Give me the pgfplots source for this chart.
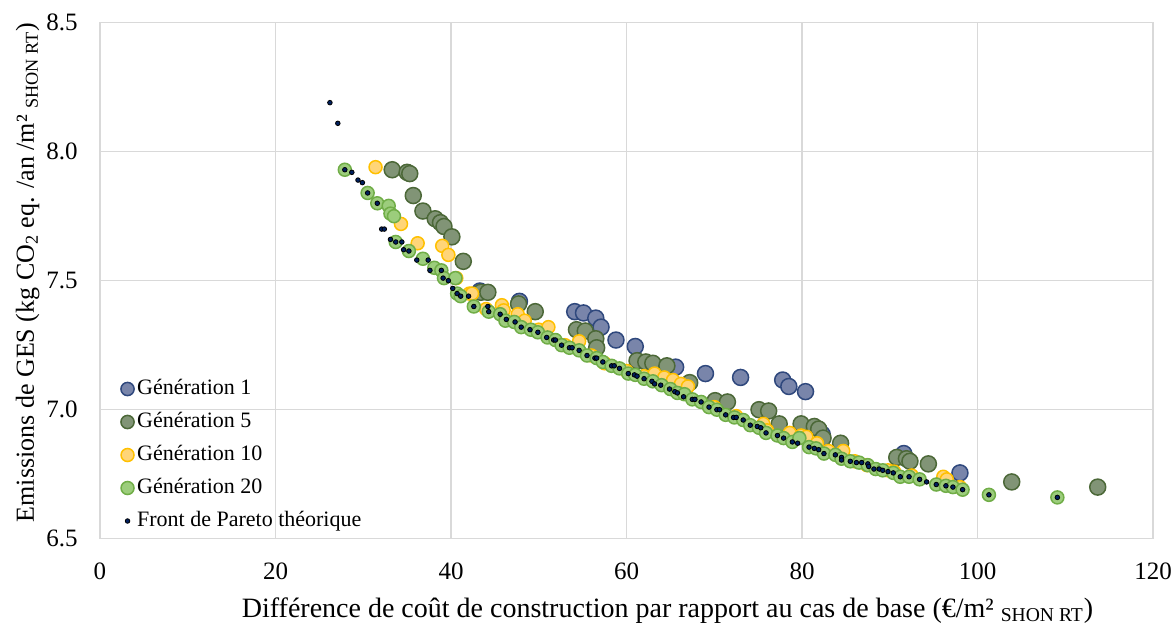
\documentclass[border=0pt]{standalone}
\usepackage{pgfplots}
\pgfplotsset{compat=1.18}
\usepackage{fontspec}
\setmainfont{Liberation Serif}

\definecolor{gridgrey}{RGB}{217,217,217}
\definecolor{gonefill}{RGB}{121,133,170}
\definecolor{goneedge}{RGB}{47,72,125}
\definecolor{gfivefill}{RGB}{129,148,118}
\definecolor{gfiveedge}{RGB}{76,104,56}
\definecolor{gtenfill}{RGB}{255,213,120}
\definecolor{gtenedge}{RGB}{255,192,0}
\definecolor{gtwentyfill}{RGB}{156,205,124}
\definecolor{gtwentyedge}{RGB}{112,173,71}
\definecolor{pareto}{RGB}{0,32,96}

\begin{document}
\begin{tikzpicture}
\begin{axis}[
    scale only axis,
    width=526.5pt, height=258pt,
    xmin=0, xmax=120, ymin=6.5, ymax=8.5,
    xtick={0,20,...,120},
    ytick={6.5,7.0,7.5,8.0,8.5},
    yticklabel style={/pgf/number format/fixed, /pgf/number format/fixed zerofill, /pgf/number format/precision=1},
    /pgf/number format/assume math mode=true,
    grid=major,
    grid style={gridgrey, line width=0.75pt},
    axis line style={gridgrey, line width=0.75pt},
    tick style={draw=none},
    ticklabel style={font=\fontsize{12.5}{14}\selectfont},
    xticklabel style={anchor=north, inner sep=0pt, yshift=-12pt},
    yticklabel style={anchor=east, inner sep=0pt, xshift=-11pt},
    xlabel={Différence de coût de construction par rapport au cas de base (€/m² \textsubscript{SHON RT})},
    ylabel={Emissions de GES (kg CO\textsubscript{2} eq. /an /m² \textsubscript{SHON RT})},
    xlabel style={at={(axis description cs:0.539,-0.152)}, anchor=base, font=\fontsize{14}{16}\selectfont},
    ylabel style={at={(axis description cs:-0.0627,0.516)}, anchor=base, font=\fontsize{13}{15}\selectfont},
    legend cell align=left,
    legend style={at={(0.0195,0.318)}, anchor=north west, draw=none, fill=none,
        inner sep=0pt, row sep=2.5pt,
        font=\fontsize{11}{13}\selectfont,
        nodes={text height=0.75em, text depth=0.25em, inner ysep=2pt, inner xsep=1.5pt}},
    legend image code/.code={\draw[mark repeat=2,mark phase=2,#1] plot coordinates {(0cm,0cm) (0.16cm,0cm) (0.32cm,0cm)};},
]

% Generation 1
\addplot[only marks, mark=*, mark size=4pt,
    mark options={fill=gonefill, draw=goneedge, line width=0.75pt},
    legend image post style={mark size=3.3pt}] table {
x y
43.3 7.46
47.8 7.42
54.1 7.38
55.1 7.375
56.5 7.355
57.1 7.32
58.8 7.27
61.0 7.245
65.6 7.165
69.0 7.14
73.0 7.125
77.8 7.115
78.5 7.09
80.4 7.07
82.3 6.905
91.6 6.83
98.0 6.755
};
\addlegendentry{Génération 1}

% Generation 5
\addplot[only marks, mark=*, mark size=4pt,
    mark options={fill=gfivefill, draw=gfiveedge, line width=0.75pt},
    legend image post style={mark size=3.3pt}] table {
x y
33.3 7.93
35.0 7.92
35.3 7.915
35.7 7.83
36.8 7.77
38.2 7.74
38.8 7.725
39.2 7.71
40.1 7.67
41.4 7.575
43.4 7.455
44.2 7.455
47.7 7.41
49.6 7.38
54.3 7.31
55.3 7.305
56.5 7.275
56.6 7.24
61.2 7.19
62.2 7.185
63.0 7.18
64.6 7.17
67.2 7.105
70.1 7.035
71.5 7.03
75.1 7.00
76.2 6.995
77.4 6.945
79.9 6.945
81.4 6.935
81.9 6.925
82.4 6.89
84.4 6.87
90.8 6.815
91.9 6.81
92.3 6.80
94.4 6.79
103.9 6.72
113.7 6.70
};
\addlegendentry{Génération 5}

% Generation 10
\addplot[only marks, mark=*, mark size=3.25pt,
    mark options={fill=gtenfill, draw=gtenedge, line width=0.75pt}] table {
x y
31.4 7.94
34.3 7.72
36.2 7.645
39.0 7.635
39.7 7.60
40.6 7.51
42.1 7.45
42.4 7.45
44.0 7.39
45.8 7.405
46.0 7.385
47.6 7.37
48.4 7.345
50.0 7.31
51.1 7.32
53.0 7.25
54.6 7.265
56.0 7.21
57.5 7.18
60.0 7.15
62.0 7.13
63.2 7.14
64.3 7.125
65.3 7.115
66.2 7.10
67.0 7.09
70.0 7.01
72.5 6.975
75.6 6.945
76.0 6.92
78.6 6.91
79.9 6.90
80.5 6.895
81.7 6.87
83.0 6.84
84.7 6.84
86.0 6.80
87.4 6.785
89.8 6.765
90.5 6.76
92.5 6.745
96.1 6.74
96.5 6.73
98.0 6.70
};
\addlegendentry{Génération 10}

% Generation 20
\addplot[only marks, mark=*, mark size=3.25pt,
    mark options={fill=gtwentyfill, draw=gtwentyedge, line width=0.75pt}] table {
x y
27.9 7.93
30.5 7.84
31.6 7.80
32.9 7.79
33.1 7.76
33.5 7.75
33.7 7.65
35.2 7.615
36.8 7.585
38.1 7.55
38.9 7.54
39.2 7.51
40.5 7.51
40.7 7.45
41.1 7.44
42.6 7.40
44.3 7.38
45.6 7.37
46.2 7.345
47.2 7.34
48.0 7.32
49.1 7.31
49.9 7.30
51.0 7.28
51.9 7.27
52.6 7.25
53.5 7.24
54.6 7.23
55.5 7.21
56.6 7.20
57.3 7.185
58.3 7.17
59.2 7.16
60.2 7.14
61.0 7.135
62.0 7.12
63.0 7.11
64.0 7.095
65.0 7.08
65.8 7.065
66.6 7.06
67.5 7.04
68.5 7.03
69.4 7.01
70.3 7.00
71.3 6.98
72.3 6.97
73.3 6.96
74.1 6.94
75.1 6.93
75.9 6.91
77.2 6.90
77.9 6.89
78.9 6.875
79.7 6.89
80.8 6.855
81.6 6.85
82.5 6.83
83.8 6.825
84.5 6.81
85.5 6.80
86.5 6.795
87.5 6.785
88.4 6.77
89.2 6.765
90.4 6.755
91.2 6.74
92.2 6.74
93.4 6.73
95.3 6.71
96.4 6.705
97.2 6.70
98.3 6.69
101.3 6.67
109.1 6.66
};
\addlegendentry{Génération 20}

% Front de Pareto theorique
\addplot[only marks, mark=*, mark size=1.15pt,
    mark options={fill=pareto, draw=none}] table {
x y
26.2 8.19
27.1 8.11
27.9 7.93
28.7 7.92
29.4 7.89
29.9 7.88
30.5 7.84
31.6 7.80
32.1 7.70
32.4 7.70
33.1 7.66
33.7 7.65
34.4 7.65
34.6 7.62
35.2 7.615
36.1 7.58
37.4 7.58
37.6 7.54
38.9 7.54
39.1 7.51
39.7 7.50
40.2 7.47
40.7 7.45
41.1 7.44
42.0 7.44
42.6 7.40
44.2 7.40
44.3 7.38
45.6 7.37
46.3 7.35
47.3 7.34
48.0 7.32
49.0 7.31
49.9 7.30
50.9 7.28
51.7 7.27
51.9 7.27
52.6 7.25
53.5 7.24
53.8 7.24
54.6 7.23
55.5 7.21
56.4 7.20
56.6 7.20
57.3 7.185
58.3 7.17
58.6 7.17
59.2 7.16
60.2 7.14
60.9 7.135
61.2 7.13
62.0 7.12
62.9 7.11
63.2 7.10
63.9 7.095
64.9 7.08
65.5 7.07
65.8 7.065
66.5 7.05
67.5 7.04
67.8 7.04
68.5 7.03
69.4 7.01
70.3 7.00
70.6 7.00
71.3 6.98
72.2 6.97
72.5 6.97
73.3 6.96
74.1 6.94
74.9 6.935
75.3 6.93
75.9 6.91
77.2 6.90
77.9 6.89
78.9 6.875
79.5 6.87
80.8 6.855
81.4 6.85
81.9 6.845
82.5 6.83
83.8 6.825
84.5 6.815
84.5 6.805
85.5 6.80
86.2 6.795
86.8 6.795
87.5 6.79
87.6 6.78
88.2 6.77
88.8 6.77
89.2 6.765
89.8 6.76
90.4 6.755
91.2 6.74
92.2 6.74
93.4 6.73
94.2 6.72
95.3 6.71
96.4 6.705
97.2 6.70
98.3 6.69
101.3 6.67
109.1 6.66
};
\addlegendentry{Front de Pareto théorique}

\end{axis}
\pgfresetboundingbox
\path[use as bounding box] ([shift={(-50pt,-42.15pt)}]current axis.south west) rectangle ([shift={(11.5pt,11.35pt)}]current axis.north east);
\end{tikzpicture}
\end{document}
